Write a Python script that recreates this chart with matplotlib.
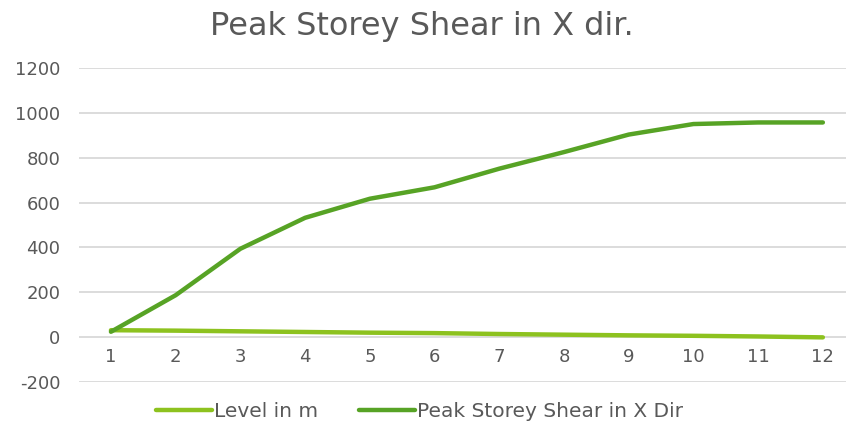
import matplotlib
matplotlib.use("Agg")
import matplotlib.pyplot as plt

categories = [1, 2, 3, 4, 5, 6, 7, 8, 9, 10, 11, 12]
level_in_m = [31, 29, 26, 23, 20, 18, 14, 11, 8, 6, 3, -1]
peak_shear = [24, 187, 394, 532, 617, 668, 751, 825, 903, 950, 957, 957]
y_ticks = [-200, 0, 200, 400, 600, 800, 1000, 1200]

LIGHT = "#8DC21F"
DARK = "#57A325"
TXT = "#595959"

plt.rcParams['font.family'] = ['DejaVu Sans']
plt.rcParams['axes.unicode_minus'] = False

fig = plt.figure(figsize=(8.46, 4.21), dpi=100)
ax = fig.add_axes([0.0929, 0.0926, 0.918, 0.746])

l1, = ax.plot(categories, level_in_m, color=LIGHT, lw=3.2, solid_capstyle='round', label="Level in m")
l2, = ax.plot(categories, peak_shear, color=DARK, lw=3.2, solid_capstyle='round', label="Peak Storey Shear in X Dir")

ax.set_xlim(0.5, 12.5)
ax.set_ylim(-200, 1200)
ax.set_yticks(y_ticks)
ax.set_xticks(categories)
ax.yaxis.grid(True, color="#D9D9D9", lw=1.3)
ax.set_axisbelow(True)
for s in ['top', 'right', 'left']:
    ax.spines[s].set_visible(False)
ax.spines['bottom'].set_position(('data', 0))
ax.spines['bottom'].set_visible(False)
ax.tick_params(axis='both', length=0, colors=TXT, labelsize=13)
ax.tick_params(axis='x', pad=8)
ax.tick_params(axis='y', pad=13)

fig.text(0.499, 0.938, "Peak Storey Shear in X dir.", ha='center', va='center',
         fontsize=23, color=TXT)

fig.legend(handles=[l1, l2], loc='center', bbox_to_anchor=(0.496, 0.022), ncol=2,
           frameon=False, fontsize=14.5, labelcolor=TXT, handlelength=2.8,
           handletextpad=0.1, columnspacing=2.0)

fig.savefig("out.png", dpi=100)
